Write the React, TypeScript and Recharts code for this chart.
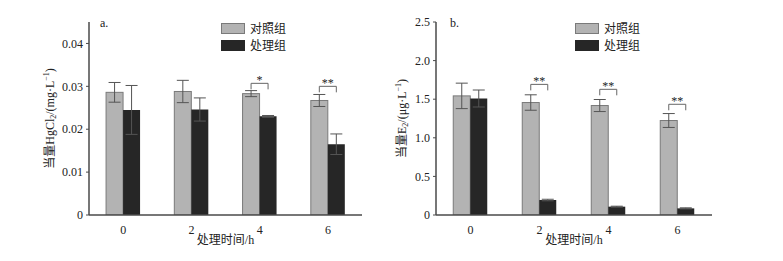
import React from 'react';
import { BarChart, Bar, XAxis, YAxis, ErrorBar, Label } from 'recharts';

// 处理时间 (h)
const hours = ['0', '2', '4', '6'];

// a. 当量 HgCl2
const hgControl = [0.0286, 0.0288, 0.0283, 0.0267];
const hgControlErr = [0.0023, 0.0026, 0.0007, 0.0014];
const hgTreat = [0.0245, 0.0246, 0.023, 0.0165];
const hgTreatErr = [0.0057, 0.0027, 0.0002, 0.0024];
const hgSigTop = [null, null, 0.0307, 0.03];
const hgSigText = ['', '', '*', '**'];
const hgTicks = [0, 0.01, 0.02, 0.03, 0.04];
const hgMinorTicks = [0.005, 0.015, 0.025, 0.035, 0.045];

// b. 当量 E2
const e2Control = [1.543, 1.457, 1.418, 1.224];
const e2ControlErr = [0.165, 0.1, 0.078, 0.09];
const e2Treat = [1.509, 0.194, 0.108, 0.086];
const e2TreatErr = [0.11, 0.01, 0.006, 0.007];
const e2SigTop = [null, 1.692, 1.628, 1.434];
const e2SigText = ['', '**', '**', '**'];
const e2Ticks = [0, 0.5, 1, 1.5, 2, 2.5];
const e2MinorTicks = [0.25, 0.75, 1.25, 1.75, 2.25];

const FONT = "'Liberation Serif', 'Times New Roman', 'Noto Sans CJK SC', serif";
const AXIS = '#4a4a4a';
const GRAY = '#b3b3b3';
const BLACK = '#262626';

function buildRows(c: number[], ce: number[], t: number[], te: number[], sig: (number | null)[], txt: string[]) {
  return hours.map((h, i) => ({ h, c: c[i], ce: ce[i], t: t[i], te: te[i], sig: sig[i], sigText: txt[i] }));
}

const hgData = buildRows(hgControl, hgControlErr, hgTreat, hgTreatErr, hgSigTop, hgSigText);
const e2Data = buildRows(e2Control, e2ControlErr, e2Treat, e2TreatErr, e2SigTop, e2SigText);

// control bar + significance bracket spanning to the treatment bar
const ControlShape = (props: any) => {
  const { x, y, width, height, payload } = props;
  const base = y + height;
  const perUnit = payload.c ? height / payload.c : 0;
  let bracket = null;
  if (payload.sig != null) {
    const by = base - payload.sig * perUnit;
    const x1 = x + width / 2;
    const x2 = x + width * 1.5;
    bracket = (
      <g>
        <path d={`M${x1},${by + 6}V${by}H${x2}V${by + 6}`} fill="none" stroke="#666" strokeWidth={1} />
        <text
          x={(x1 + x2) / 2}
          y={by + 1}
          textAnchor="middle"
          fontSize={12}
          fontFamily={FONT}
          style={{ fill: '#222', stroke: 'none' }}
        >
          {payload.sigText}
        </text>
      </g>
    );
  }
  return (
    <g>
      <rect x={x} y={y} width={width} height={height} fill={GRAY} stroke="#7a7a7a" strokeWidth={1} />
      {bracket}
    </g>
  );
};

const YLabel = ({ viewBox, name, unit, dx }: any) => {
  const cx = viewBox.x + dx;
  const cy = viewBox.y + viewBox.height / 2;
  return (
    <text
      x={cx}
      y={cy}
      transform={`rotate(-90 ${cx} ${cy})`}
      textAnchor="middle"
      dominantBaseline="central"
      fontSize={12}
      fontFamily={FONT}
      fill="#222"
    >
      当量{name}
      <tspan dy={3} fontSize={8}>2</tspan>
      <tspan dy={-3}>/({unit}·L</tspan>
      <tspan dy={-4} fontSize={8}>−1</tspan>
      <tspan dy={4}>)</tspan>
    </text>
  );
};

const XLabel = ({ viewBox }: any) => (
  <text
    x={viewBox.x + viewBox.width / 2}
    y={viewBox.y + 29}
    textAnchor="middle"
    fontSize={12}
    fontFamily={FONT}
    fill="#222"
  >
    处理时间/h
  </text>
);

const LegendBox = ({ left }: { left: number }) => (
  <div style={{ position: 'absolute', left, top: 22, fontFamily: FONT, fontSize: 12, color: '#222' }}>
    <div style={{ display: 'flex', alignItems: 'center', height: 12, marginBottom: 5 }}>
      <div style={{ width: 24, height: 11, background: GRAY, border: '1px solid #7a7a7a', boxSizing: 'border-box' }} />
      <span style={{ marginLeft: 5 }}>对照组</span>
    </div>
    <div style={{ display: 'flex', alignItems: 'center', height: 12 }}>
      <div style={{ width: 24, height: 11, background: BLACK }} />
      <span style={{ marginLeft: 5 }}>处理组</span>
    </div>
  </div>
);

function Panel({
  data, width, margin, yWidth, domain, ticks, minorTicks, fmt, name, unit, labelDx, tag, tagX,
}: any) {
  return (
    <BarChart
      width={width}
      height={261}
      data={data}
      margin={margin}
      barCategoryGap="25%"
      barGap={0}
      style={{ fontFamily: FONT }}
    >
      <XAxis
        xAxisId="minor"
        type="number"
        domain={[0, 4]}
        ticks={[1, 2, 3]}
        mirror
        height={0}
        tick={false}
        axisLine={false}
        tickSize={3}
        tickLine={{ stroke: AXIS }}
        allowDataOverflow
      />
      <XAxis
        dataKey="h"
        height={30}
        tickLine={false}
        axisLine={{ stroke: AXIS, strokeWidth: 1.5 }}
        tick={{ fontSize: 12, fill: '#222', fontFamily: FONT }}
        tickMargin={4}
      >
        <Label content={<XLabel />} />
      </XAxis>
      <YAxis
        yAxisId="minor"
        domain={domain}
        ticks={minorTicks}
        mirror
        width={0}
        tick={false}
        axisLine={false}
        tickSize={3}
        tickLine={{ stroke: AXIS }}
        allowDataOverflow
      />
      <YAxis
        domain={domain}
        ticks={ticks}
        width={yWidth}
        tickFormatter={fmt}
        tickSize={3}
        tickMargin={3}
        tickLine={{ stroke: AXIS }}
        axisLine={{ stroke: AXIS, strokeWidth: 1.5 }}
        tick={{ fontSize: 12, fill: '#222', fontFamily: FONT }}
        allowDataOverflow
      >
        <Label content={<YLabel name={name} unit={unit} dx={labelDx} />} />
      </YAxis>
      <Bar dataKey="c" fill={GRAY} shape={<ControlShape />} isAnimationActive={false}>
        <ErrorBar dataKey="ce" width={6} stroke="#555" strokeWidth={1} direction="y" isAnimationActive={false} />
      </Bar>
      <Bar dataKey="t" fill={BLACK} isAnimationActive={false}>
        <ErrorBar dataKey="te" width={6} stroke="#555" strokeWidth={1} direction="y" isAnimationActive={false} />
      </Bar>
      <text x={tagX} y={27} fontSize={12} fontFamily={FONT} fill="#222">{tag}</text>
    </BarChart>
  );
}

export default function App() {
  return (
    <div style={{ position: 'absolute', left: 0, top: 0, width: 783, height: 261, background: '#fff', overflow: 'hidden' }}>
      <div style={{ position: 'absolute', left: 0, top: 0 }}>
        <Panel
          data={hgData}
          width={391}
          margin={{ top: 22, right: 29, bottom: 16, left: 44 }}
          yWidth={45}
          domain={[0, 0.045]}
          ticks={hgTicks}
          minorTicks={hgMinorTicks}
          fmt={(v: number) => (v === 0 ? '0' : v.toFixed(2))}
          name="HgCl"
          unit="mg"
          labelDx={6}
          tag="a."
          tagX={100}
        />
      </div>
      <div style={{ position: 'absolute', left: 391, top: 0 }}>
        <Panel
          data={e2Data}
          width={392}
          margin={{ top: 22, right: 71, bottom: 16, left: 5 }}
          yWidth={40}
          domain={[0, 2.5]}
          ticks={e2Ticks}
          minorTicks={e2MinorTicks}
          fmt={(v: number) => (v === 0 ? '0' : v.toFixed(1))}
          name="E"
          unit="μg"
          labelDx={6}
          tag="b."
          tagX={59}
        />
      </div>
      <LegendBox left={221} />
      <LegendBox left={575} />
    </div>
  );
}
